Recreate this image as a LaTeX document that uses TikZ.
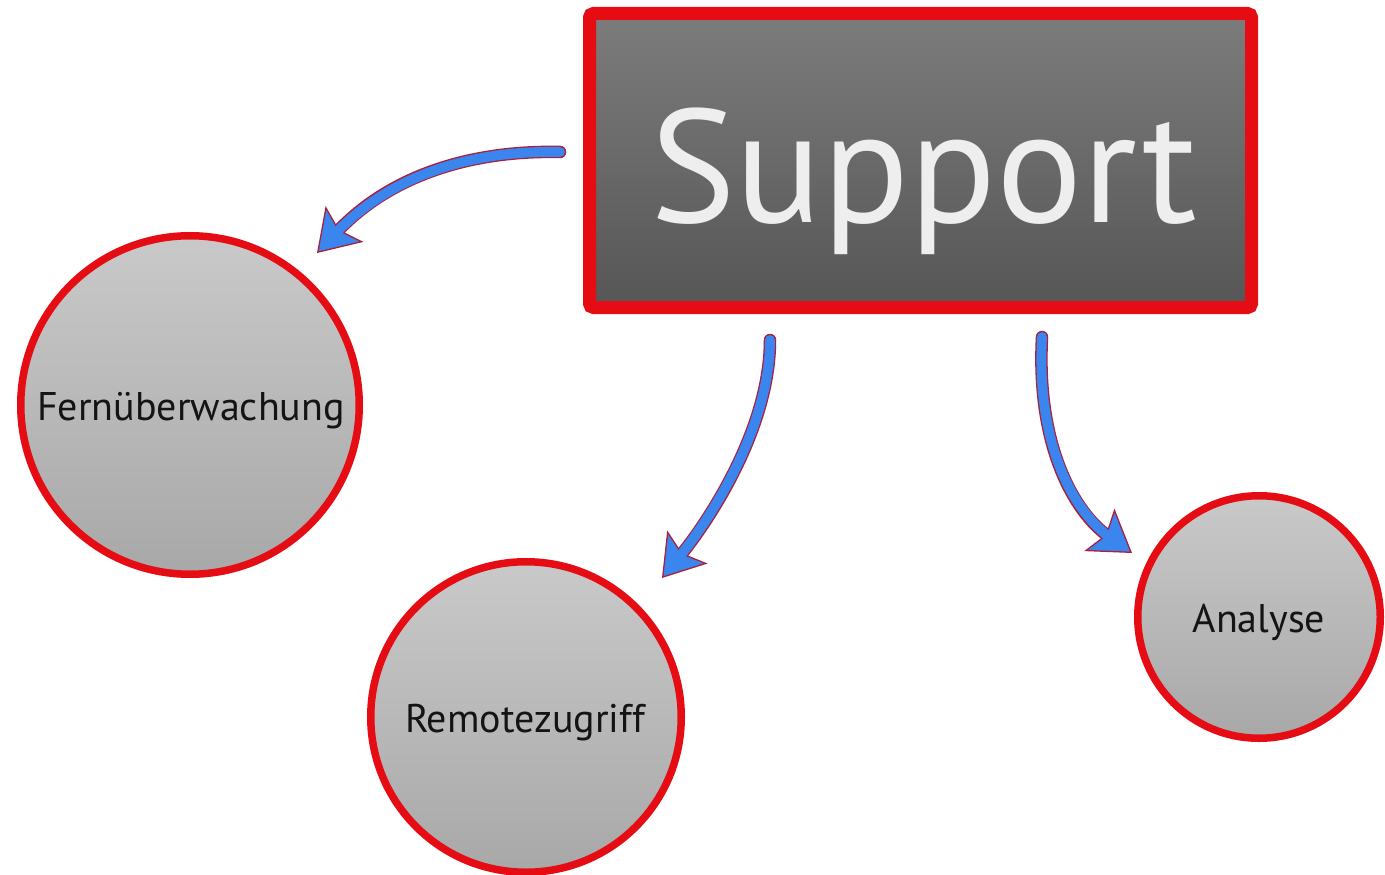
\documentclass[tikz,border=0pt]{standalone}
\usepackage{fontspec}
\setmainfont{PT Sans}
\usetikzlibrary{arrows.meta}
\definecolor{boxred}{HTML}{E60C14}
\definecolor{arrowblue}{HTML}{3B86EE}
\definecolor{arrowrim}{HTML}{A8203C}
\definecolor{boxtop}{HTML}{7C7C7C}
\definecolor{boxbot}{HTML}{565656}
\definecolor{bubtop}{HTML}{C9C9C9}
\definecolor{bubbot}{HTML}{A8A8A8}
\definecolor{lbltext}{HTML}{141414}
\definecolor{suptext}{HTML}{EEEEEE}
\tikzset{
  mainbox/.style={draw=boxred, line width=13pt, rounded corners=4pt, rectangle,
    minimum width=662pt, minimum height=294pt, inner sep=0pt,
    top color=boxtop, bottom color=boxbot},
  bubble/.style={draw=boxred, line width=7.5pt, circle, inner sep=0pt,
    top color=bubtop, bottom color=bubbot},
  lbl/.style={anchor=base, inner sep=0pt, text=lbltext,
    font=\fontsize{40}{40}\selectfont},
  biglbl/.style={anchor=base, inner sep=0pt, text=suptext,
    font=\fontsize{161}{161}\selectfont},
  fatarrow/.style={draw=arrowrim, line width=1.3pt,
    -{Stealth[length=40pt,width=52pt,inset=8pt,fill=arrowblue]},
    preaction={draw=arrowrim, line width=12.5pt, arrows=-, line cap=round, shorten >=30pt},
    postaction={draw=arrowblue, line width=9.9pt, arrows=-, line cap=round, shorten >=27pt}}
}
\begin{document}
\begin{tikzpicture}[x=1pt,y=-1pt]
\useasboundingbox (0,0) rectangle (1385,875);
\fill[white] (0,0) rectangle (1385,875);
% main box
\node[mainbox] (sup) at (920.5,160.5) {};
\node[biglbl] (supT) at (923.5,222) {Support};
% bubbles
\node[bubble, minimum size=338.5pt] (fern) at (190,405) {};
\node[lbl] (fernT) at (191,420) {Fernüberwachung};
\node[bubble, minimum size=310.5pt] (remo) at (526,717) {};
\node[lbl] (remoT) at (525,732) {Remotezugriff};
\node[bubble, minimum size=242.5pt] (ana) at (1259,617) {};
\node[lbl] (anaT) at (1259,632) {Analyse};
% arrow end points
\coordinate (a1s) at (560,152);
\coordinate (a1e) at (317,253);
\coordinate (a2s) at (770,340);
\coordinate (a2e) at (662,578);
\coordinate (a3s) at (1042,337);
\coordinate (a3e) at (1132,553);
% arrows
\draw[fatarrow] (a1s) .. controls (470,150) and (390,176) .. (a1e);
\draw[fatarrow] (a2s) .. controls (770,430) and (707,523) .. (a2e);
\draw[fatarrow] (a3s) .. controls (1036,450) and (1077,514) .. (a3e);
\end{tikzpicture}
\end{document}
